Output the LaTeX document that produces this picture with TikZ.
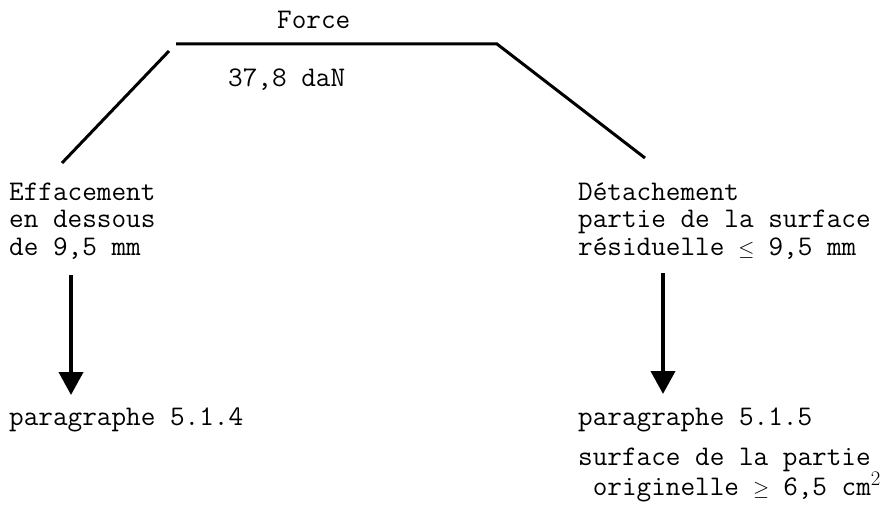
\documentclass[tikz,border=0pt]{standalone}
\usepackage{fontspec}
\usetikzlibrary{arrows.meta}
\newcommand{\smallrel}[1]{\makebox[0.525em]{\fontsize{20}{20}\selectfont$#1$}}

\begin{document}
\begin{tikzpicture}[x=1pt, y=-1pt,
	label text/.style={font=\ttfamily\fontsize{28.4}{27.5}\selectfont, inner sep=0pt, anchor=base west, align=left},
	branch line/.style={line width=3pt},
	down arrow/.style={line width=4pt, -{Triangle[width=24pt,length=23pt]}}]
	\useasboundingbox (0,0) rectangle (891,516);
	
	% force at the top
	\node[label text] (force) at (277,29) {Force};
	\node[label text] (value) at (228,87) {37,8 daN};
	
	% the two branches
	\node[label text] (effacement) at (9,255) {Effacement\\en dessous\\de 9,5 mm};
	\node[label text] (detachement) at (578,255) {Détachement\\partie de la surface\\résiduelle \smallrel{\leq} 9,5 mm};
	
	\node[label text] (par4) at (9,425) {paragraphe 5.1.4};
	\node[label text] (par5) at (578,425) {paragraphe 5.1.5};
	\node[label text] (surface) at (578,495) {surface de la partie\\\phantom{o}originelle \smallrel{\geq} 6,5 cm$^2$};
	
	\coordinate (top left) at (176,44);
	\coordinate (top right) at (497,44);
	\coordinate (left up) at (169,51);
	\coordinate (left down) at (62,163);
	\coordinate (right down) at (645,158);
	\coordinate (arr4 start) at (71,275);
	\coordinate (arr4 end) at (71,395);
	\coordinate (arr5 start) at (663,273);
	\coordinate (arr5 end) at (663,394);
	
	\draw[branch line] (top left) -- (top right) -- (right down);
	\draw[branch line] (left up) -- (left down);
	
	\draw[down arrow] (arr4 start) -- (arr4 end);
	\draw[down arrow] (arr5 start) -- (arr5 end);
	
\end{tikzpicture}
\end{document}
